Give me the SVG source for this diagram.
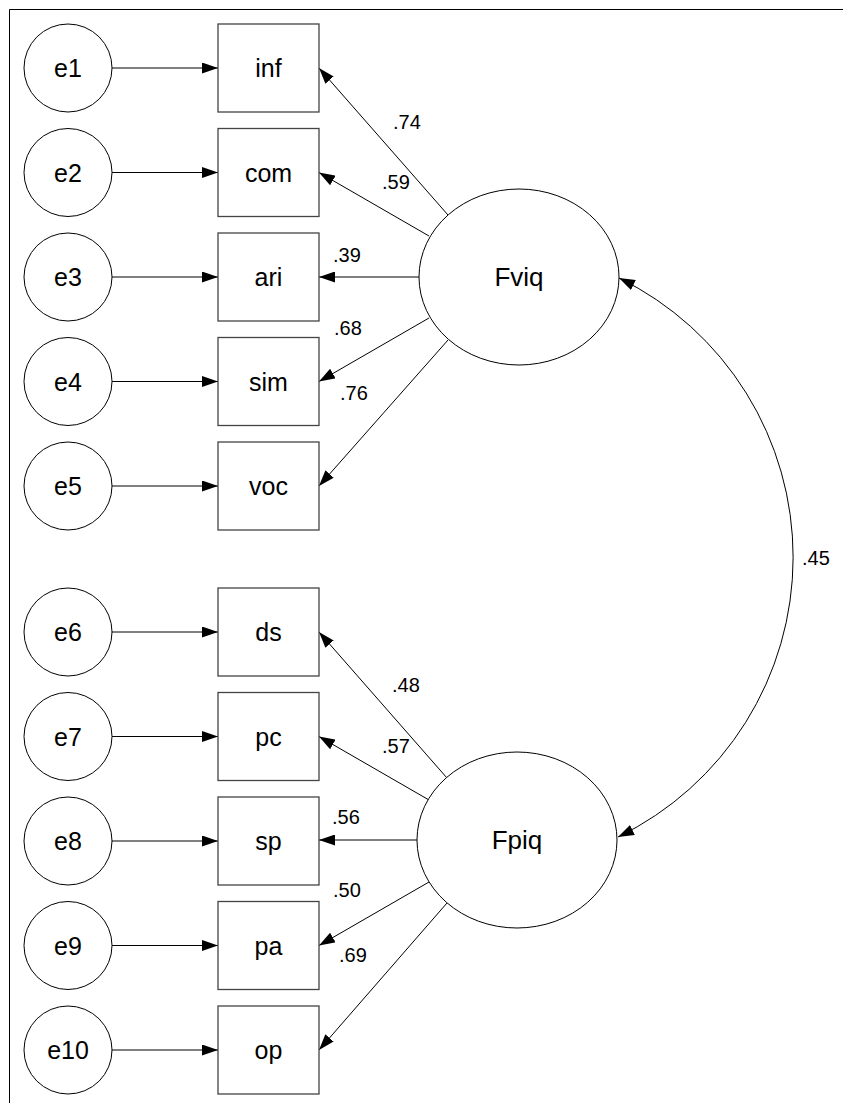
<svg xmlns="http://www.w3.org/2000/svg" width="843" height="1103" viewBox="0 0 843 1103">
<style>
.bg{fill:#fff}
.frame{fill:none;stroke:#000;stroke-width:1}
.err{fill:#fff;stroke:#000;stroke-width:1}
.obs{fill:#fff;stroke:#444;stroke-width:1.3}
.lat{fill:#fff;stroke:#000;stroke-width:1}
.edge{fill:none;stroke:#000;stroke-width:1;marker-end:url(#ah)}
.cov{fill:none;stroke:#000;stroke-width:1;marker-start:url(#ah);marker-end:url(#ah)}
.nt{font-family:"Liberation Sans",Arial,sans-serif;font-size:25px;fill:#000;text-anchor:middle}
.lt{font-family:"Liberation Sans",Arial,sans-serif;font-size:26px;fill:#000;text-anchor:middle}
.el{font-family:"Liberation Sans",Arial,sans-serif;font-size:20px;fill:#000}
</style>
<defs>
<marker id="ah" markerUnits="userSpaceOnUse" markerWidth="16" markerHeight="11" refX="16" refY="5.5" orient="auto-start-reverse" viewBox="0 0 16 11">
<path d="M0,0 L16,5.5 L0,11 z" fill="#000"/>
</marker>
</defs>
<rect class="bg" x="0" y="0" width="843" height="1103"/>
<path class="frame" d="M9.5,1103 V9.5 H843"/>

<g id="connectors">
<line class="edge" x1="112" y1="68" x2="218" y2="68"/>
<line class="edge" x1="112" y1="172.5" x2="218" y2="172.5"/>
<line class="edge" x1="112" y1="277" x2="218" y2="277"/>
<line class="edge" x1="112" y1="381.5" x2="218" y2="381.5"/>
<line class="edge" x1="112" y1="486" x2="218" y2="486"/>
<line class="edge" x1="112" y1="632" x2="218" y2="632"/>
<line class="edge" x1="112" y1="736.5" x2="218" y2="736.5"/>
<line class="edge" x1="112" y1="841" x2="218" y2="841"/>
<line class="edge" x1="112" y1="945.5" x2="218" y2="945.5"/>
<line class="edge" x1="112" y1="1050" x2="218" y2="1050"/>

<line class="edge" x1="448" y1="215" x2="319" y2="68"/>
<line class="edge" x1="429" y1="236" x2="319" y2="172.5"/>
<line class="edge" x1="419" y1="277" x2="319" y2="277"/>
<line class="edge" x1="429" y1="318" x2="319" y2="381.5"/>
<line class="edge" x1="448" y1="340" x2="319" y2="486"/>

<line class="edge" x1="447" y1="778" x2="319" y2="632"/>
<line class="edge" x1="429" y1="800" x2="319" y2="736.5"/>
<line class="edge" x1="417" y1="840" x2="319" y2="840"/>
<line class="edge" x1="429" y1="882" x2="319" y2="945.5"/>
<line class="edge" x1="447" y1="903" x2="319" y2="1050"/>

<path class="cov" d="M619,278 A311,311 0 0 1 618,837"/>

<text class="el" x="393" y="129">.74</text>
<text class="el" x="382" y="189">.59</text>
<text class="el" x="333" y="262">.39</text>
<text class="el" x="334" y="335">.68</text>
<text class="el" x="340" y="400">.76</text>
<text class="el" x="392" y="692">.48</text>
<text class="el" x="382" y="753">.57</text>
<text class="el" x="332" y="824">.56</text>
<text class="el" x="333" y="897">.50</text>
<text class="el" x="339" y="962">.69</text>
<text class="el" x="802" y="565">.45</text>
</g>

<g id="e1"><circle class="err" cx="68" cy="68" r="44"/><text class="nt" x="68" y="77">e1</text></g>
<g id="e2"><circle class="err" cx="68" cy="172.5" r="44"/><text class="nt" x="68" y="181.5">e2</text></g>
<g id="e3"><circle class="err" cx="68" cy="277" r="44"/><text class="nt" x="68" y="286">e3</text></g>
<g id="e4"><circle class="err" cx="68" cy="381.5" r="44"/><text class="nt" x="68" y="390.5">e4</text></g>
<g id="e5"><circle class="err" cx="68" cy="486" r="44"/><text class="nt" x="68" y="495">e5</text></g>
<g id="e6"><circle class="err" cx="68" cy="632" r="44"/><text class="nt" x="68" y="641">e6</text></g>
<g id="e7"><circle class="err" cx="68" cy="736.5" r="44"/><text class="nt" x="68" y="745.5">e7</text></g>
<g id="e8"><circle class="err" cx="68" cy="841" r="44"/><text class="nt" x="68" y="850">e8</text></g>
<g id="e9"><circle class="err" cx="68" cy="945.5" r="44"/><text class="nt" x="68" y="954.5">e9</text></g>
<g id="e10"><circle class="err" cx="68" cy="1050" r="44"/><text class="nt" x="68" y="1059">e10</text></g>

<g id="inf"><rect class="obs" x="218" y="24" width="101" height="88"/><text class="nt" x="268.5" y="77">inf</text></g>
<g id="com"><rect class="obs" x="218" y="128.5" width="101" height="88"/><text class="nt" x="268.5" y="181.5">com</text></g>
<g id="ari"><rect class="obs" x="218" y="233" width="101" height="88"/><text class="nt" x="268.5" y="286">ari</text></g>
<g id="sim"><rect class="obs" x="218" y="337.5" width="101" height="88"/><text class="nt" x="268.5" y="390.5">sim</text></g>
<g id="voc"><rect class="obs" x="218" y="442" width="101" height="88"/><text class="nt" x="268.5" y="495">voc</text></g>
<g id="ds"><rect class="obs" x="218" y="588" width="101" height="88"/><text class="nt" x="268.5" y="641">ds</text></g>
<g id="pc"><rect class="obs" x="218" y="692.5" width="101" height="88"/><text class="nt" x="268.5" y="745.5">pc</text></g>
<g id="sp"><rect class="obs" x="218" y="797" width="101" height="88"/><text class="nt" x="268.5" y="850">sp</text></g>
<g id="pa"><rect class="obs" x="218" y="901.5" width="101" height="88"/><text class="nt" x="268.5" y="954.5">pa</text></g>
<g id="op"><rect class="obs" x="218" y="1006" width="101" height="88"/><text class="nt" x="268.5" y="1059">op</text></g>

<g id="Fviq"><ellipse class="lat" cx="519" cy="277" rx="100" ry="88"/><text class="lt" x="519" y="286">Fviq</text></g>
<g id="Fpiq"><ellipse class="lat" cx="517" cy="840" rx="100" ry="88"/><text class="lt" x="517" y="849">Fpiq</text></g>
</svg>
